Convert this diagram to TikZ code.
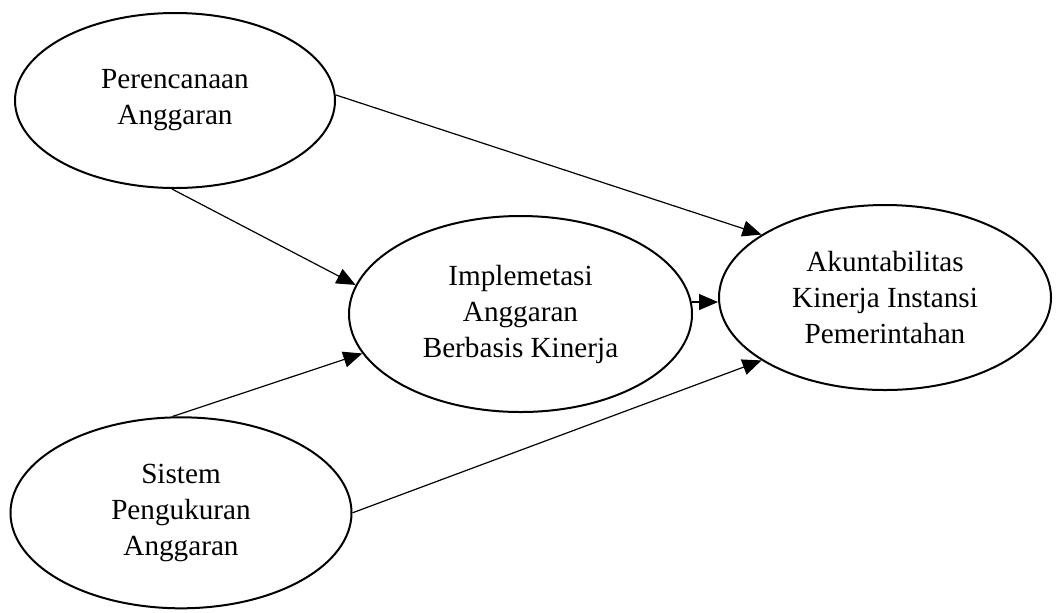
\documentclass[tikz,border=0pt]{standalone}
\usepackage{fontspec}
\setmainfont{Liberation Serif}
\usetikzlibrary{shapes.geometric,arrows.meta}

\begin{document}
\begin{tikzpicture}[x=0.5pt, y=-0.5pt,
  var/.style={draw, ellipse, line width=1pt, inner sep=0pt, align=center, font=\fontsize{14.6}{18}\selectfont},
  link/.style={line width=0.6pt, -{Triangle[length=9.5pt, width=8pt]}}]
\useasboundingbox (0,0) rectangle (1058,612);

\node[var, minimum width=160pt, minimum height=87.5pt] (plan) at (175,100.5) {Perencanaan\\Anggaran};
\node[var, minimum width=171.5pt, minimum height=98pt] (impl) at (520.5,314) {Implemetasi\\Anggaran\\Berbasis Kinerja};
\node[var, minimum width=166pt, minimum height=92.5pt] (akip) at (885,297.5) {Akuntabilitas\\Kinerja Instansi\\Pemerintahan};
\node[var, minimum width=170.5pt, minimum height=95.5pt] (ukur) at (181,512.8) {Sistem\\Pengukuran\\Anggaran};

\draw[link] (plan.268) -- (impl.170);
\draw[link] (plan.2) -- (akip.153);
\draw[link] (impl.4) -- (impl.4 -| akip.west);
\draw[link] (ukur.95) -- (impl.194);
\draw[link] (ukur.east) -- (akip.207);
\end{tikzpicture}
\end{document}
